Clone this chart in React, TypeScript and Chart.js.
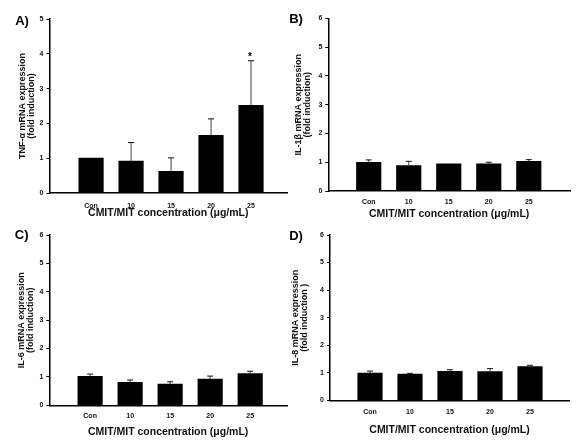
import React, { useEffect, useRef } from "react";
import { Chart, registerables } from "chart.js";

Chart.register(...registerables);

// ---------- DATA ----------
const categories = ["Con", "10", "15", "20", "25"];
const xAxisTitle = "CMIT/MIT concentration (μg/mL)";

const tnfMeans = [1.0, 0.92, 0.62, 1.66, 2.52];
const tnfErrors = [0, 0.53, 0.39, 0.47, 1.28];
const tnfMarks = ["", "", "", "", "*"];

const il1bMeans = [1.0, 0.88, 0.94, 0.94, 1.03];
const il1bErrors = [0.08, 0.15, 0, 0.06, 0.06];
const il1bMarks = ["", "", "", "", ""];

const il6Means = [1.02, 0.81, 0.75, 0.92, 1.12];
const il6Errors = [0.08, 0.08, 0.08, 0.11, 0.08];
const il6Marks = ["", "", "", "", ""];

const il8Means = [0.99, 0.95, 1.05, 1.04, 1.22];
const il8Errors = [0.07, 0.03, 0.06, 0.11, 0.05];
const il8Marks = ["", "", "", "", ""];

const yTicksA = 5;
const yTicksOther = 6;

// ---------- LAYOUT ----------
const FONT = "'Liberation Sans', Arial, Helvetica, sans-serif";

type Panel = {
  label: string;
  yTitle: string[];
  yMax: number;
  means: number[];
  errors: number[];
  marks: string[];
  left: number;
  top: number;
  width: number;
  height: number;
  padR: number;
  padT: number;
  yW: number;
  xH: number;
  xMin: number;
  xMax: number;
  xTickPad: number;
  xTitlePad: number;
  yTitlePad: number;
  labelX: number;
  labelY: number;
};

const panels: Panel[] = [
  {
    label: "A)", yTitle: ["TNF-α mRNA expression", "(fold induction)"], yMax: yTicksA,
    means: tnfMeans, errors: tnfErrors, marks: tnfMarks,
    left: 0, top: 0, width: 292, height: 220,
    padR: 5, padT: 19, yW: 49.5, xH: 27, xMin: -0.04, xMax: 5.9,
    xTickPad: 8.8, xTitlePad: 1.75, yTitlePad: 18.7, labelX: 22, labelY: 21,
  },
  {
    label: "B)", yTitle: ["IL-1β mRNA expression", "(fold induction)"], yMax: yTicksOther,
    means: il1bMeans, errors: il1bErrors, marks: il1bMarks,
    left: 288, top: 0, width: 297, height: 220,
    padR: 15, padT: 18.3, yW: 40.3, xH: 29, xMin: -0.01, xMax: 6.03,
    xTickPad: 6.8, xTitlePad: 0.75, yTitlePad: 6.5, labelX: 8, labelY: 19.5,
  },
  {
    label: "C)", yTitle: ["IL-6 mRNA expression", "(fold induction)"], yMax: yTicksOther,
    means: il6Means, errors: il6Errors, marks: il6Marks,
    left: 0, top: 220, width: 292, height: 223,
    padR: 5, padT: 15, yW: 49.3, xH: 37.7, xMin: -0.02, xMax: 5.92,
    xTickPad: 7, xTitlePad: 5.75, yTitlePad: 17.4, labelX: 21.7, labelY: 15,
  },
  {
    label: "D)", yTitle: ["IL-8 mRNA expression", "(fold induction )"], yMax: yTicksOther,
    means: il8Means, errors: il8Errors, marks: il8Marks,
    left: 288, top: 220, width: 297, height: 223,
    padR: 16, padT: 15, yW: 42, xH: 42.7, xMin: 0, xMax: 5.975,
    xTickPad: 7.5, xTitlePad: 7.45, yTitlePad: 3.5, labelX: 8, labelY: 16,
  },
];

function makeOverlayPlugin(p: Panel) {
  return {
    id: "overlay" + p.label,
    afterDatasetsDraw(chart: any) {
      const { ctx } = chart;
      const y = chart.scales.y;
      const meta = chart.getDatasetMeta(0);
      ctx.save();
      meta.data.forEach((bar: any, i: number) => {
        const e = p.errors[i];
        const x = bar.x;
        const topVal = p.means[i] + (e || 0);
        const yTop = y.getPixelForValue(topVal);
        if (e) {
          ctx.strokeStyle = "#444";
          ctx.lineWidth = 1;
          ctx.beginPath();
          ctx.moveTo(x, bar.y);
          ctx.lineTo(x, yTop);
          ctx.stroke();
          ctx.strokeStyle = "#111";
          ctx.beginPath();
          ctx.moveTo(x - 3, yTop);
          ctx.lineTo(x + 3, yTop);
          ctx.stroke();
        }
        if (p.marks[i]) {
          ctx.fillStyle = "#000";
          ctx.font = `bold 10px ${FONT}`;
          ctx.textAlign = "center";
          ctx.textBaseline = "alphabetic";
          ctx.fillText(p.marks[i], x - 1, yTop - 0.5);
        }
      });
      // panel label
      ctx.fillStyle = "#000";
      ctx.font = `bold 13px ${FONT}`;
      ctx.textAlign = "center";
      ctx.textBaseline = "middle";
      ctx.fillText(p.label, p.labelX, p.labelY);
      ctx.restore();
    },
  };
}

function PanelChart({ p }: { p: Panel }) {
  const ref = useRef<HTMLCanvasElement | null>(null);
  useEffect(() => {
    if (!ref.current) return;
    const chart = new Chart(ref.current, {
      type: "bar",
      data: {
        datasets: [
          {
            data: categories.map((_, i) => ({ x: i + 1, y: p.means[i] })),
            backgroundColor: "#000",
            borderWidth: 0,
            barThickness: 24.5,
          } as any,
        ],
      },
      options: {
        animation: false,
        responsive: false,
        devicePixelRatio: 1,
        layout: { padding: { left: 0, right: p.padR, top: p.padT, bottom: 0 } },
        plugins: { legend: { display: false }, tooltip: { enabled: false } },
        scales: {
          x: {
            type: "linear",
            offset: false,
            min: p.xMin,
            max: p.xMax,
            afterFit: (s: any) => { s.height = p.xH; },
            afterBuildTicks: (s: any) => { s.ticks = categories.map((_, i) => ({ value: i + 1 })); },
            grid: { display: false, drawTicks: false, offset: false },
            border: { display: true, color: "#000", width: 1.5 },
            ticks: {
              autoSkip: false,
              maxRotation: 0,
              padding: p.xTickPad,
              color: "#111",
              font: { family: FONT, size: 7, weight: "bold" },
              callback: (v: any) => categories[Math.round(Number(v)) - 1] ?? "",
            },
            title: {
              display: true,
              text: xAxisTitle,
              color: "#111",
              font: { family: FONT, size: 10.5, weight: "bold", lineHeight: 1 },
              padding: { top: 0, bottom: p.xTitlePad },
            },
          },
          y: {
            min: 0,
            max: p.yMax,
            afterFit: (s: any) => { s.width = p.yW; },
            grid: { display: true, drawOnChartArea: false, drawTicks: true, tickLength: 3, tickColor: "#000", tickWidth: 1 },
            border: { display: true, color: "#000", width: 1.5 },
            ticks: {
              stepSize: 1,
              padding: 3,
              color: "#111",
              font: { family: FONT, size: 7, weight: "bold" },
            },
            title: {
              display: true,
              text: p.yTitle,
              color: "#111",
              font: { family: FONT, size: 9, weight: "bold", lineHeight: 0.95 },
              padding: { top: p.yTitlePad, bottom: 0 },
            },
          },
        },
      } as any,
      plugins: [makeOverlayPlugin(p) as any],
    });
    return () => chart.destroy();
  }, [p]);
  return (
    <canvas
      ref={ref}
      width={p.width}
      height={p.height}
      style={{ position: "absolute", left: p.left, top: p.top, width: p.width, height: p.height }}
    />
  );
}

export default function App() {
  return (
    <div style={{ position: "absolute", left: 0, top: 0, width: 585, height: 443, background: "#fff", overflow: "hidden" }}>
      {panels.map((p) => (
        <PanelChart key={p.label} p={p} />
      ))}
    </div>
  );
}
